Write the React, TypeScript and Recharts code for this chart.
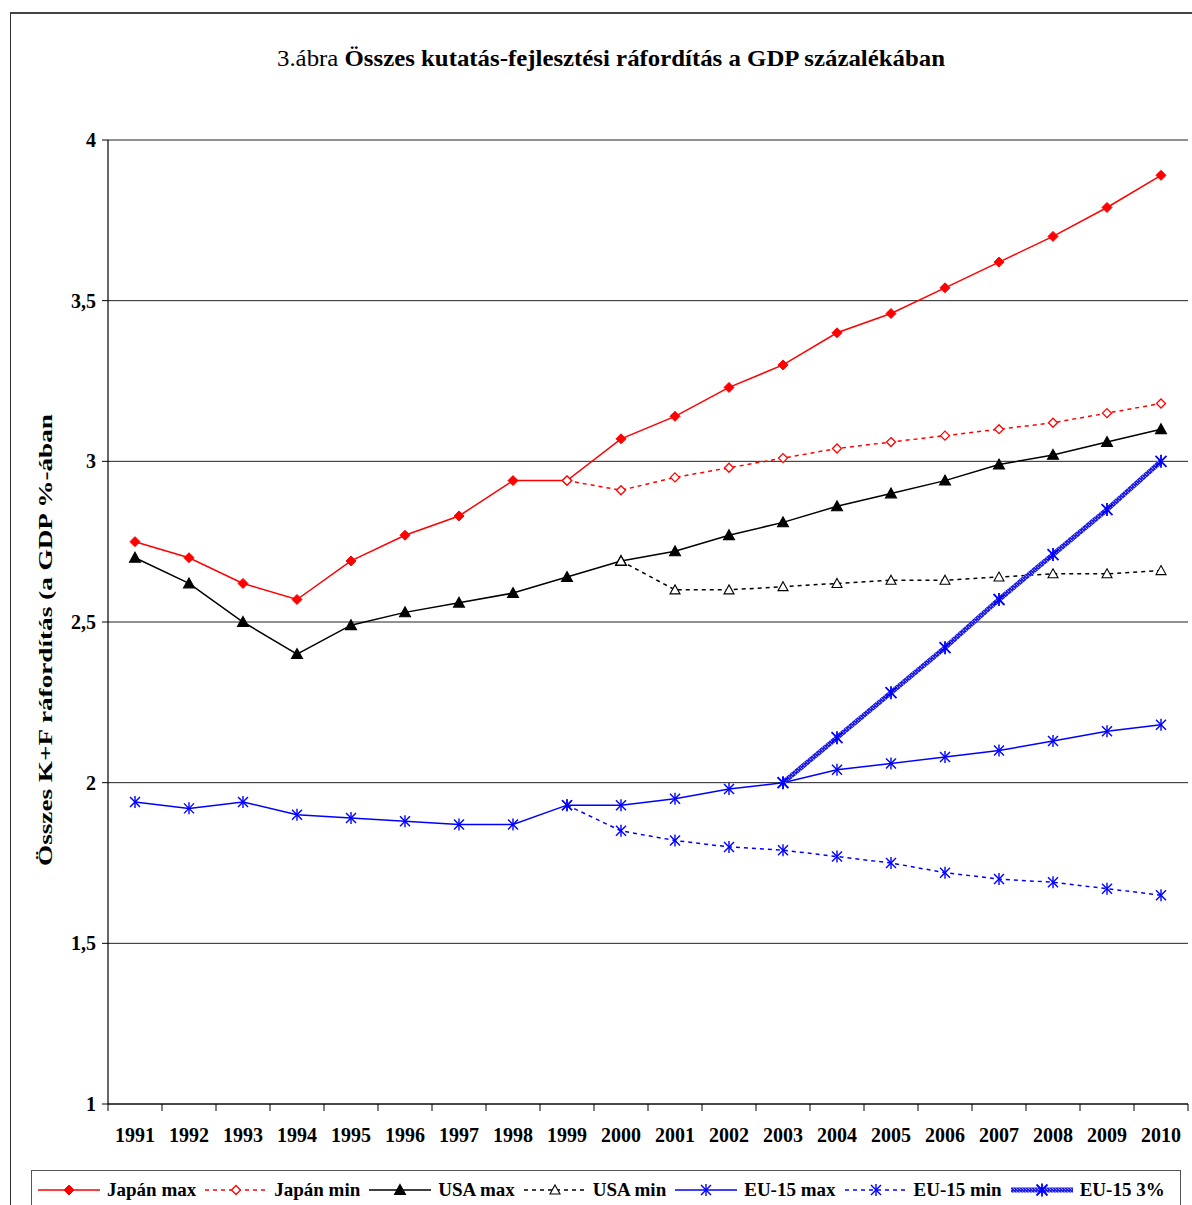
import React from 'react';
import {
  LineChart,
  Line,
  XAxis,
  YAxis,
  CartesianGrid,
} from 'recharts';

// Category labels and series values
const YEARS = [
  '1991', '1992', '1993', '1994', '1995', '1996', '1997', '1998', '1999', '2000',
  '2001', '2002', '2003', '2004', '2005', '2006', '2007', '2008', '2009', '2010',
];

const JAPAN_MAX = [2.75, 2.7, 2.62, 2.57, 2.69, 2.77, 2.83, 2.94, 2.94, 3.07, 3.14, 3.23, 3.3, 3.4, 3.46, 3.54, 3.62, 3.7, 3.79, 3.89];
const JAPAN_MIN = [null, null, null, null, null, null, null, null, 2.94, 2.91, 2.95, 2.98, 3.01, 3.04, 3.06, 3.08, 3.1, 3.12, 3.15, 3.18];
const USA_MAX = [2.7, 2.62, 2.5, 2.4, 2.49, 2.53, 2.56, 2.59, 2.64, 2.69, 2.72, 2.77, 2.81, 2.86, 2.9, 2.94, 2.99, 3.02, 3.06, 3.1];
const USA_MIN = [null, null, null, null, null, null, null, null, null, 2.69, 2.6, 2.6, 2.61, 2.62, 2.63, 2.63, 2.64, 2.65, 2.65, 2.66];
const EU_MAX = [1.94, 1.92, 1.94, 1.9, 1.89, 1.88, 1.87, 1.87, 1.93, 1.93, 1.95, 1.98, 2.0, 2.04, 2.06, 2.08, 2.1, 2.13, 2.16, 2.18];
const EU_MIN = [null, null, null, null, null, null, null, null, 1.93, 1.85, 1.82, 1.8, 1.79, 1.77, 1.75, 1.72, 1.7, 1.69, 1.67, 1.65];
const EU_3 = [null, null, null, null, null, null, null, null, null, null, null, null, 2.0, 2.14, 2.28, 2.42, 2.57, 2.71, 2.85, 3.0];

const Y_TICKS = [1, 1.5, 2, 2.5, 3, 3.5, 4];

const TITLE_PLAIN = '3.ábra ';
const TITLE_BOLD = 'Összes kutatás-fejlesztési ráfordítás a GDP százalékában';
const Y_LABEL = 'Összes K+F ráfordítás (a GDP %-ában';

const FONT = '"Liberation Serif", "Times New Roman", serif';
const RED = '#ff0000';
const BLUE = '#0000ff';
const BLACK = '#000000';
const HATCH = 'url(#euHatch)';

type Marker = 'diamond' | 'triangle' | 'star';

interface SeriesDef {
  key: string;
  name: string;
  values: (number | null)[];
  color: string;
  dashed: boolean;
  marker: Marker;
  hollow: boolean;
  thick: boolean;
}

const SERIES: SeriesDef[] = [
  { key: 'jpMax', name: 'Japán max', values: JAPAN_MAX, color: RED, dashed: false, marker: 'diamond', hollow: false, thick: false },
  { key: 'jpMin', name: 'Japán min', values: JAPAN_MIN, color: RED, dashed: true, marker: 'diamond', hollow: true, thick: false },
  { key: 'usMax', name: 'USA max', values: USA_MAX, color: BLACK, dashed: false, marker: 'triangle', hollow: false, thick: false },
  { key: 'usMin', name: 'USA min', values: USA_MIN, color: BLACK, dashed: true, marker: 'triangle', hollow: true, thick: false },
  { key: 'euMax', name: 'EU-15 max', values: EU_MAX, color: BLUE, dashed: false, marker: 'star', hollow: false, thick: false },
  { key: 'euMin', name: 'EU-15 min', values: EU_MIN, color: BLUE, dashed: true, marker: 'star', hollow: false, thick: false },
  { key: 'eu3', name: 'EU-15 3%', values: EU_3, color: BLUE, dashed: false, marker: 'star', hollow: false, thick: true },
];

const data = YEARS.map((year, i) => {
  const row: Record<string, string | number | null> = { year };
  SERIES.forEach((s) => {
    row[s.key] = s.values[i];
  });
  return row;
});

const PLOT_WIDTH = 1080;
const HALF_STEP = PLOT_WIDTH / YEARS.length / 2;

/**
 * Draw one marker shape centred on (cx, cy)
 */
function MarkerShape({ cx, cy, marker, color, hollow, big }: { cx: number; cy: number; marker: Marker; color: string; hollow: boolean; big?: boolean }) {
  if (marker === 'diamond') {
    const r = hollow ? 4.5 : 5;
    return (
      <path
        d={`M${cx},${cy - r}L${cx + r},${cy}L${cx},${cy + r}L${cx - r},${cy}Z`}
        fill={hollow ? '#fff' : color}
        stroke={color}
        strokeWidth={hollow ? 1.3 : 1}
      />
    );
  }
  if (marker === 'triangle') {
    const r = hollow ? 5 : 5.5;
    return (
      <path
        d={`M${cx},${cy - r}L${cx + r},${cy + r * 0.8}L${cx - r},${cy + r * 0.8}Z`}
        fill={hollow ? '#fff' : color}
        stroke={color}
        strokeWidth={1.1}
      />
    );
  }
  const r = big ? 5.5 : 5;
  return (
    <g stroke={color} strokeWidth={big ? 1.8 : 1.4}>
      <line x1={cx - r} y1={cy - r} x2={cx + r} y2={cy + r} />
      <line x1={cx - r} y1={cy + r} x2={cx + r} y2={cy - r} />
      <line x1={cx} y1={cy - r - 1} x2={cx} y2={cy + r + 1} />
    </g>
  );
}

function makeDot(s: SeriesDef) {
  return (props: { cx?: number; cy?: number; index?: number; value?: unknown }) => {
    const { cx, cy, index, value } = props;
    if (cx == null || cy == null || value == null) return <g key={`${s.key}-${index}`} />;
    return (
      <g key={`${s.key}-${index}`}>
        <MarkerShape cx={cx} cy={cy} marker={s.marker} color={s.color} hollow={s.hollow} big={s.thick} />
      </g>
    );
  };
}

/**
 * X-axis tick: label in the category centre, tick mark on the category border
 */
function YearTick(props: { x?: number; y?: number; payload?: { value: string }; index?: number }) {
  const { x = 0, y = 0, payload, index = 0 } = props;
  const axisY = y - 11;
  return (
    <g>
      <line x1={x - HALF_STEP} y1={axisY} x2={x - HALF_STEP} y2={axisY + 7} stroke="#000" />
      {index === YEARS.length - 1 && (
        <line x1={x + HALF_STEP} y1={axisY} x2={x + HALF_STEP} y2={axisY + 7} stroke="#000" />
      )}
      <text x={x} y={axisY + 38} textAnchor="middle" fontFamily={FONT} fontWeight="bold" fontSize={20} fill="#000">
        {payload?.value}
      </text>
    </g>
  );
}

function YLabel() {
  return (
    <text
      x={45}
      y={640}
      transform="rotate(-90 45 640)"
      textAnchor="middle"
      dominantBaseline="central"
      fontFamily={FONT}
      fontWeight="bold"
      fontSize={19}
      textLength={452}
      lengthAdjust="spacingAndGlyphs"
      fill="#000"
    >
      {Y_LABEL}
    </text>
  );
}

function LegendSample({ s }: { s: SeriesDef }) {
  return (
    <svg width={62} height={14} style={{ display: 'block' }}>
      <line
        x1={0}
        y1={7}
        x2={62}
        y2={7}
        stroke={s.thick ? HATCH : s.color}
        strokeWidth={s.thick ? 5 : 1.5}
        strokeDasharray={s.dashed ? '4 4' : undefined}
      />
      <MarkerShape cx={31} cy={7} marker={s.marker} color={s.color} hollow={s.hollow} big={s.thick} />
    </svg>
  );
}

export default function App() {
  return (
    <div style={{ position: 'absolute', left: 0, top: 0, width: 1192, height: 1205, background: '#fff', overflow: 'hidden', fontFamily: FONT }}>
      {/* hatch pattern for the thick target line */}
      <svg width={0} height={0} style={{ position: 'absolute' }}>
        <defs>
          <pattern id="euHatch" patternUnits="userSpaceOnUse" width={3} height={3}>
            <rect width={3} height={3} fill="#2020e8" />
            <rect width={1} height={1} fill="#9a9af4" />
            <rect x={2} y={2} width={1} height={1} fill="#8080f0" />
          </pattern>
        </defs>
      </svg>

      {/* outer frame */}
      <div style={{ position: 'absolute', left: 10, top: 12, width: 1200, height: 1220, borderLeft: '1.5px solid #333', borderTop: '2px solid #444' }} />

      {/* title */}
      <svg width={1192} height={90} style={{ position: 'absolute', left: 0, top: 0 }}>
        <text
          x={611}
          y={66}
          textAnchor="middle"
          fontFamily={FONT}
          fontSize={23}
          fill="#000"
          textLength={668}
          lengthAdjust="spacingAndGlyphs"
        >
          <tspan>{TITLE_PLAIN}</tspan>
          <tspan fontWeight="bold">{TITLE_BOLD}</tspan>
        </text>
      </svg>

      <div style={{ position: 'absolute', left: 0, top: 0 }}>
        <LineChart width={1192} height={1160} data={data} margin={{ top: 140, right: 4, bottom: 0, left: 0 }}>
          <CartesianGrid horizontal vertical={false} stroke="#222" strokeWidth={1} />
          {/* gray plot border on top and right */}
          <XAxis
            dataKey="year"
            xAxisId="top"
            orientation="top"
            height={0}
            tick={false}
            tickLine={false}
            axisLine={{ stroke: '#999', strokeWidth: 2 }}
            padding={{ left: HALF_STEP, right: HALF_STEP }}
          />
          <YAxis
            yAxisId="right"
            orientation="right"
            width={0}
            domain={[1, 4]}
            tick={false}
            tickLine={false}
            axisLine={{ stroke: '#999', strokeWidth: 2 }}
          />
          <XAxis
            dataKey="year"
            height={56}
            interval={0}
            tickSize={7}
            tickMargin={4}
            tickLine={false}
            tick={<YearTick />}
            axisLine={{ stroke: '#000', strokeWidth: 1.2 }}
            padding={{ left: HALF_STEP, right: HALF_STEP }}
          />
          <YAxis
            width={108}
            domain={[1, 4]}
            ticks={Y_TICKS}
            interval={0}
            tickSize={6}
            tickMargin={6}
            tickFormatter={(v: number) => String(v).replace('.', ',')}
            tick={{ fontFamily: FONT, fontWeight: 'bold', fontSize: 20, fill: '#000' }}
            tickLine={{ stroke: '#000' }}
            axisLine={{ stroke: '#000', strokeWidth: 1.2 }}
            label={<YLabel />}
          />
          {SERIES.map((s) => (
            <Line
              key={s.key}
              dataKey={s.key}
              name={s.name}
              type="linear"
              stroke={s.thick ? HATCH : s.color}
              strokeWidth={s.thick ? 5 : 1.5}
              strokeDasharray={s.dashed ? '4 4' : undefined}
              dot={makeDot(s)}
              activeDot={false}
              connectNulls={false}
              isAnimationActive={false}
            />
          ))}
        </LineChart>
      </div>

      {/* legend */}
      <div
        style={{
          position: 'absolute',
          left: 31,
          top: 1170,
          width: 1150,
          height: 50,
          border: '1.5px solid #555',
          boxSizing: 'border-box',
          display: 'flex',
          alignItems: 'flex-start',
          paddingTop: 9,
          paddingLeft: 6,
        }}
      >
        {SERIES.map((s) => (
          <div key={s.key} style={{ display: 'flex', alignItems: 'center', marginRight: 9 }}>
            <LegendSample s={s} />
            <span style={{ marginLeft: 7, fontWeight: 'bold', fontSize: 19, lineHeight: '20px', whiteSpace: 'nowrap' }}>{s.name}</span>
          </div>
        ))}
      </div>
    </div>
  );
}
